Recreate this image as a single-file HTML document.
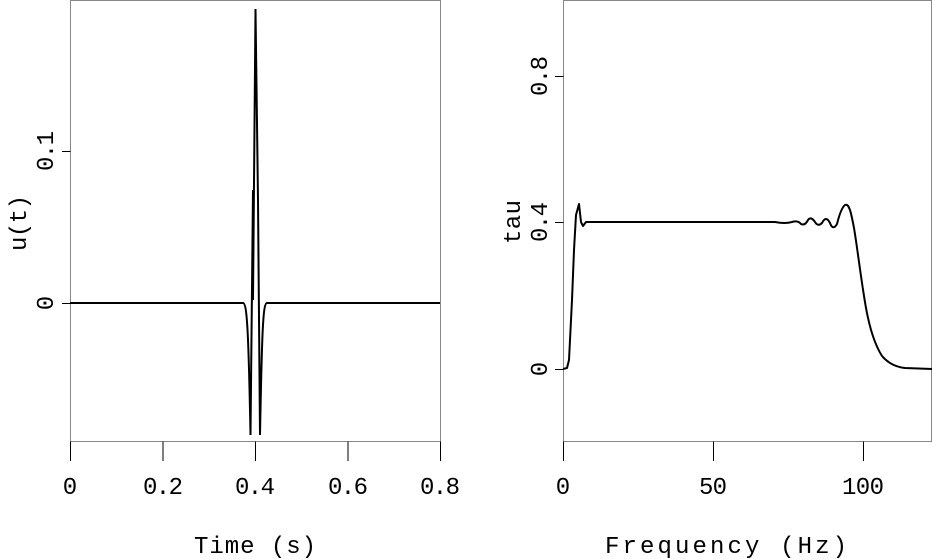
<!DOCTYPE html>
<html><head><meta charset="utf-8"><style>body{margin:0;background:#fff}svg{display:block}text{font-family:"Liberation Mono","DejaVu Sans Mono",monospace;font-size:24px;fill:#000}</style></head>
<body>
<svg width="932" height="559" viewBox="0 0 932 559">
<g fill="none" stroke="#000" stroke-width="1">
<rect x="70.5" y="0.5" width="370" height="441" stroke="#888"/>
<path d="M70.5 441.5V461M163 441.5V461M255.5 441.5V461M348 441.5V461M440.5 441.5V461M62 303.5H70.5M62 151.5H70.5"/>
<rect x="563.5" y="0.5" width="368" height="441" stroke="#888"/>
<path d="M563.5 441.5V461M713.5 441.5V461M863.5 441.5V461M555 369.5H563.5M555 222.5H563.5M555 76.5H563.5"/>
</g>
<path fill="none" stroke="#000" stroke-width="2" d="M70 303 L243 303 C247 303 248.5 330 250.5 435 L253 190 M253 300 L255.5 9 L258 200 L260 435 C262 330 263 303 267 303 L440 303"/>
<path fill="none" stroke="#000" stroke-width="2" stroke-linejoin="round" d="M563 369 L567 368 L569 360 L572 300 L574 250 L576 215 L579 204 L581 222 L583 226 L586 222 L600 222 L700 222 L775 222 Q785 224 792 222 Q798 220 801 224 Q805 226 808 220 Q811 216 815 222 Q818 227 822 223 Q826 215 830 223 Q833 231 837 224 Q841 208 845 205 C849 203 851 212 854 228 C857 245 861 280 866 308 C870 330 875 345 882 356 C888 363 895 367 905 368 L932 369"/>
<g text-anchor="middle">
<text x="70" y="494">0</text><text x="163" y="494" textLength="40">0.2</text><text x="255" y="494" textLength="40">0.4</text><text x="348" y="494" textLength="40">0.6</text><text x="440" y="494" textLength="40">0.8</text>
<text x="255" y="553" font-size="26" textLength="122">Time (s)</text>
<text x="563" y="494">0</text><text x="713" y="494" textLength="28">50</text><text x="863" y="494" textLength="42">100</text>
<text x="726" y="553" font-size="26" textLength="242">Frequency (Hz)</text>
<text transform="translate(53,303) rotate(-90)">0</text>
<text transform="translate(53,151) rotate(-90)" textLength="40">0.1</text>
<text transform="translate(26,223) rotate(-90)" font-size="26" textLength="56">u(t)</text>
<text transform="translate(547,369) rotate(-90)">0</text>
<text transform="translate(547,222) rotate(-90)" textLength="40">0.4</text>
<text transform="translate(547,76) rotate(-90)" textLength="40">0.8</text>
<text transform="translate(520,222) rotate(-90)" font-size="26" textLength="44">tau</text>
</g>
</svg>
</body></html>
